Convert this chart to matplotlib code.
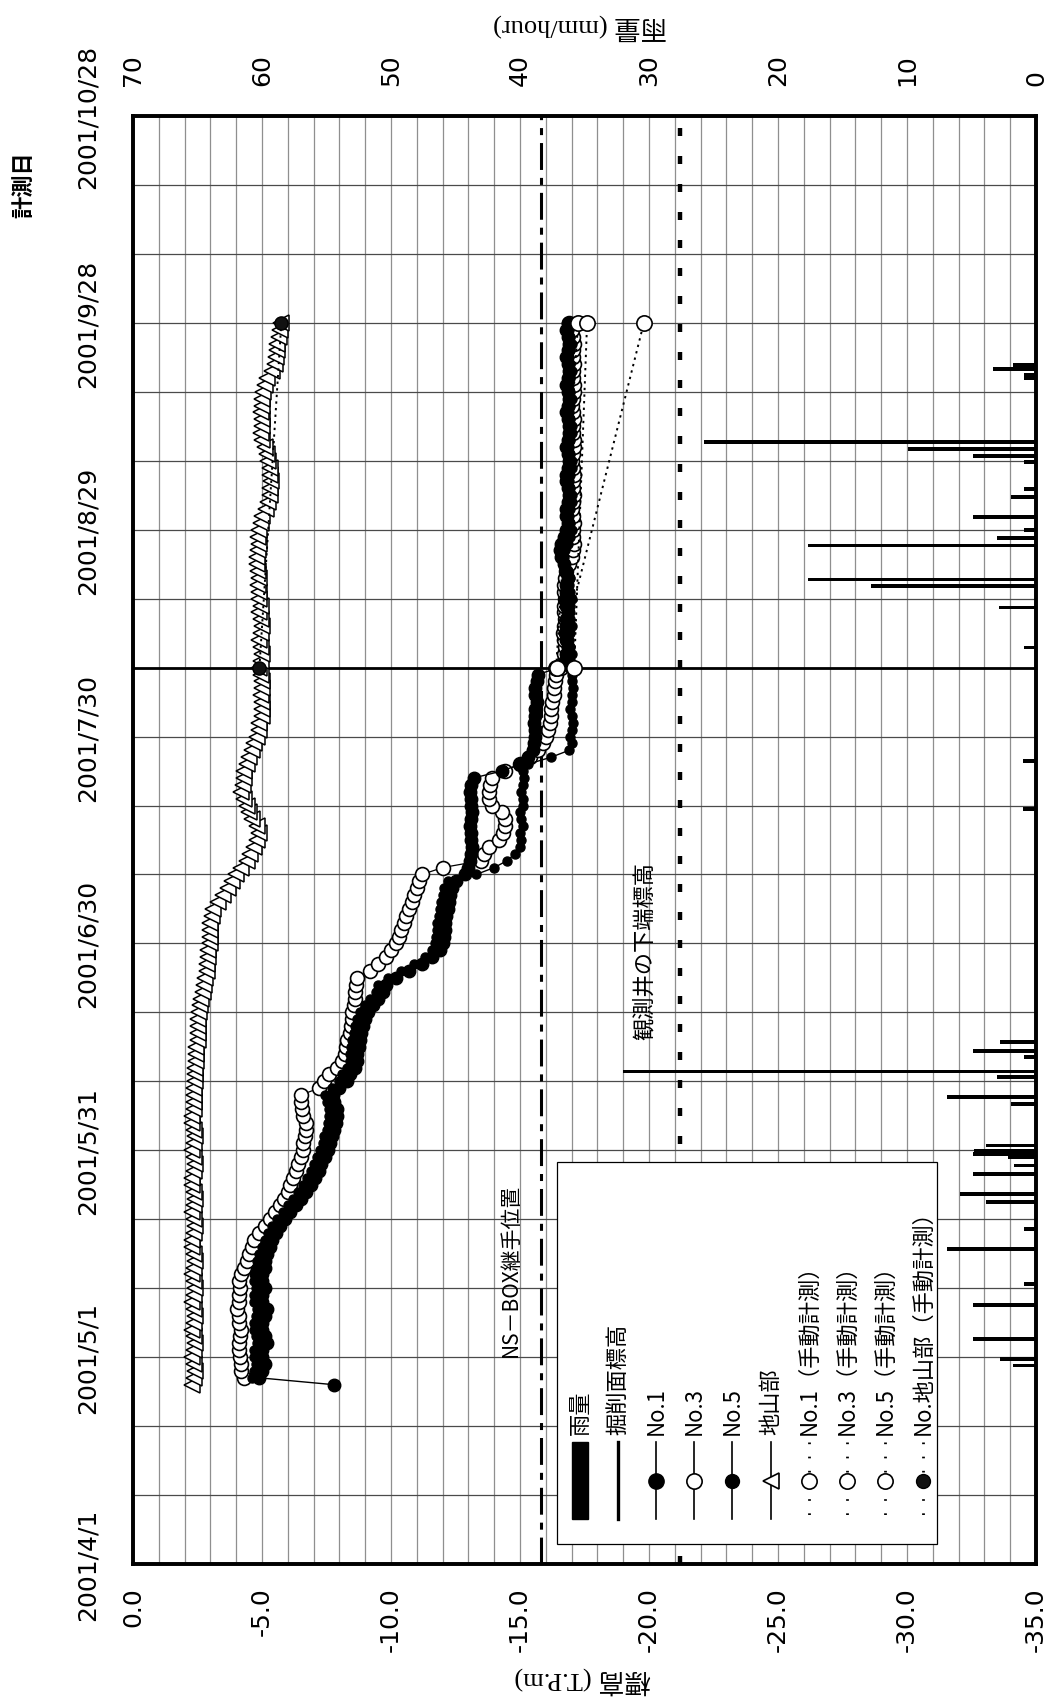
import matplotlib.pyplot as plt
from matplotlib.patches import Rectangle
import numpy as np
import pandas as pd

plt.rcParams['font.family'] = ['DejaVu Sans', 'Noto Sans CJK JP']

BASE = pd.Timestamp('2001-04-01')
W, H = 1049, 1708

# --- data --------------------------------------------------------------
# excavation surface elevation (掘削面標高)
exc_dates = ['2001-04-12', '2001-04-19', '2001-05-21', '2001-05-29', '2001-06-05',
             '2001-06-07', '2001-06-28', '2001-07-31', '2001-08-03', '2001-08-25',
             '2001-09-02', '2001-09-07', '2001-09-25', '2001-10-02', '2001-10-16',
             '2001-10-27']
exc_vals = [0.0, -2.8, -2.8, -5.6, -5.6, -6.4, -12.1, -17.3, -17.8, -17.8,
            -20.6, -20.6, -23.1, -23.1, -25.7, -25.7]

# automatic readings, one per day
no1_start = '2001-04-27'
no1_vals = ([-7.8]
            + [-4.9, -5.0, -5.1, -5.0, -5.0, -5.2, -5.1, -5.0, -5.0, -5.1, -5.2, -5.0,
               -5.0, -5.1, -5.0, -5.0, -5.1, -5.1]
            + [-5.2, -5.3, -5.4, -5.55, -5.7, -5.9, -6.1, -6.3, -6.5, -6.7,
               -6.9, -7.05, -7.2, -7.3, -7.45, -7.55, -7.65, -7.7, -7.8, -7.85,
               -7.9, -7.9, -7.8, -7.75, -8.0, -8.3, -8.4, -8.6, -8.7, -8.7,
               -8.75, -8.8, -8.85, -8.9, -9.0, -9.1, -9.3, -9.5, -9.7, -9.8,
               -10.2, -10.7, -11.2, -11.6, -11.9, -12.0, -12.05, -12.1, -12.1, -12.15,
               -12.2, -12.25, -12.3, -12.35, -12.5]
            + [-12.85, -13.0, -13.05, -13.1, -13.15, -13.1, -13.1, -13.05, -13.1, -13.15,
               -13.1, -13.1, -13.05, -13.1, -13.2, -14.3, -15.0, -15.3]
            + [-15.5, -15.55, -15.6, -15.6, -15.55, -15.6, -15.6, -15.65, -15.6, -15.6,
               -15.65, -15.7]
            + [-16.5, -16.75, -16.8, -16.85, -16.8, -16.75, -16.8, -16.8, -16.85, -16.8,
               -16.75, -16.8, -16.8, -16.85, -16.8, -16.7, -16.6, -16.55, -16.6, -16.7,
               -16.8, -16.85, -16.8, -16.8, -16.85, -16.9, -16.85, -16.8, -16.8, -16.85,
               -16.9, -16.85, -16.8, -16.85, -16.9, -16.9, -16.85, -16.8, -16.85, -16.9,
               -16.85, -16.8, -16.85, -16.9, -16.85, -16.8, -16.85, -16.9, -16.85, -16.8,
               -16.85])

no3_start = '2001-04-28'
no3_vals = ([-4.3, -4.2, -4.2, -4.15, -4.1, -4.1, -4.15, -4.2, -4.1, -4.1, -4.05, -4.1,
             -4.1, -4.15, -4.1, -4.2]
            + [-4.3, -4.4, -4.5, -4.6, -4.7, -4.9, -5.1, -5.3, -5.5, -5.7,
               -5.85, -6.0, -6.1, -6.2, -6.3, -6.4, -6.5, -6.6, -6.6, -6.65,
               -6.7, -6.7, -6.6, -6.55, -6.5, -6.5, -7.2, -7.4, -7.6, -7.9,
               -8.1, -8.2, -8.25, -8.3, -8.4, -8.45, -8.5, -8.5, -8.55, -8.6,
               -8.6, -8.65, -8.7, -9.2, -9.5, -9.8, -10.0, -10.2, -10.3, -10.4,
               -10.5, -10.6, -10.7, -10.8, -10.9, -11.0, -11.1, -11.2, -12.0, -13.5,
               -13.6, -13.8, -14.2, -14.35, -14.4, -14.4, -14.3, -13.9, -13.8, -13.8,
               -13.85, -13.9, -14.4, -15.0, -15.4, -15.7, -15.9, -16.0, -16.1, -16.15,
               -16.2, -16.2, -16.25, -16.3, -16.3, -16.35, -16.4]
            + [-16.6, -16.7, -16.7, -16.75, -16.7, -16.65, -16.7, -16.75, -16.7, -16.7,
               -16.75, -16.7, -16.7, -16.75, -16.8, -16.9, -17.0, -17.05, -17.1, -17.05,
               -17.05, -17.1, -17.05, -17.0, -17.05, -17.1, -17.05, -17.05, -17.1, -17.05,
               -17.0, -17.05, -17.1, -17.1, -17.05, -17.05, -17.1, -17.05, -17.0, -17.05,
               -17.1, -17.1, -17.05, -17.05, -17.1, -17.05, -17.05, -17.1, -17.05, -17.0,
               -16.9])

no5_start = '2001-04-28'
no5_vals = ([-4.6, -4.7, -4.75, -4.7, -4.7, -4.8, -4.75, -4.7, -4.7, -4.75, -4.8, -4.7,
             -4.7, -4.75, -4.7, -4.7, -4.75, -4.8]
            + [-4.9, -5.0, -5.1, -5.25, -5.4, -5.6, -5.8, -6.0, -6.2, -6.4,
               -6.6, -6.75, -6.9, -7.0, -7.15, -7.25, -7.35, -7.4, -7.5, -7.55,
               -7.6, -7.6, -7.5, -7.45, -7.7, -8.0, -8.1, -8.3, -8.4, -8.4,
               -8.45, -8.5, -8.55, -8.6, -8.7, -8.8, -9.0, -9.2, -9.4, -9.5,
               -9.9, -10.4, -10.9, -11.3, -11.6, -11.7, -11.75, -11.8, -11.8, -11.85,
               -11.9, -11.95, -12.0, -12.05, -12.2]
            + [-13.3, -14.0, -14.5, -14.8, -15.0, -15.05, -15.0, -15.1, -15.05, -15.0,
               -15.1, -15.1, -15.05, -15.1, -15.15, -15.1, -15.3, -16.2]
            + [-16.9, -17.0, -16.95, -17.0, -17.05, -17.0, -16.95, -17.0, -17.0, -17.05,
               -17.0, -17.0]
            + [-16.9, -16.95, -17.0, -16.95, -16.9, -16.95, -17.0, -16.95, -16.9, -16.95,
               -17.0, -16.95, -16.9, -16.95, -16.85, -16.75, -16.7, -16.75, -16.85, -16.95,
               -17.0, -16.95, -16.9, -16.95, -17.0, -17.0, -16.95, -16.9, -16.95, -17.0,
               -17.0, -16.95, -16.9, -16.95, -17.0, -17.0, -16.95, -16.9, -16.95, -17.0,
               -16.95, -16.9, -16.95, -17.0, -16.95, -16.9, -16.95, -17.0, -16.95, -16.9,
               -16.95])

jiyama_start = '2001-04-27'
jiyama_vals = ([-2.3, -2.35, -2.4, -2.35, -2.3, -2.35, -2.4, -2.35, -2.3, -2.35,
                -2.4, -2.35, -2.3, -2.35, -2.4, -2.35, -2.3, -2.35, -2.4, -2.35,
                -2.3, -2.3, -2.35, -2.4, -2.35, -2.3, -2.35, -2.4, -2.35, -2.3,
                -2.3, -2.35, -2.4, -2.35, -2.3, -2.35, -2.4, -2.35, -2.3, -2.3,
                -2.35, -2.35]
               + [-2.35, -2.35, -2.4, -2.4, -2.4, -2.45, -2.45, -2.45, -2.5, -2.5, -2.5, -2.5]
               + [-2.55, -2.6, -2.65, -2.7, -2.75, -2.8, -2.85, -2.85, -2.9, -2.9]
               + [-3.0, -3.0, -3.0, -3.0, -3.05, -3.1]
               + [-3.3, -3.5, -3.7, -3.85, -4.0, -4.2, -4.4, -4.55, -4.7, -4.8, -4.9]
               + [-4.8, -4.6, -4.5, -4.4, -4.3, -4.2, -4.25, -4.3, -4.3, -4.4, -4.5, -4.6,
                  -4.7, -4.8]
               + [-4.9, -4.9, -5.0, -5.0, -5.0, -4.95, -5.0, -5.0, -4.95, -4.9, -4.95, -5.0,
                  -4.95, -4.9, -4.95, -5.0, -4.95, -4.9, -4.95, -4.9, -4.9, -4.85, -4.9]
               + [-4.85, -4.8, -4.8, -4.85, -4.9, -4.85, -4.9, -4.95, -5.0]
               + [-5.15, -5.25, -5.3, -5.3, -5.35, -5.3, -5.3, -5.25, -5.2, -5.1]
               + [-5.0, -4.95, -5.0, -5.0, -4.95, -5.0, -5.0, -5.05, -5.1, -5.2]
               + [-5.4, -5.5, -5.55, -5.6, -5.6, -5.65, -5.7, -5.75])

# manual readings (手動計測)
man_dates = ['2001-08-09', '2001-09-28']
no1_man = [-16.4, -17.25]
no3_man = [-17.1, -17.6]
no5_man = [-16.45, -19.8]
jiyama_man = [-4.9, -5.75]

# hourly rainfall (mm/hour)
rain_times = ['2001-04-29 19:00', '2001-04-30 17:00', '2001-05-03 14:00', '2001-05-08 14:00',
              '2001-05-11 14:00', '2001-05-16 17:00', '2001-05-19 14:00', '2001-05-23 12:00',
              '2001-05-24 17:00', '2001-05-27 14:00', '2001-05-28 19:00', '2001-05-30 00:00',
              '2001-05-30 12:00', '2001-05-30 22:00', '2001-05-31 17:00', '2001-06-06 17:00',
              '2001-06-07 17:00', '2001-06-10 14:00', '2001-06-11 10:00', '2001-06-13 12:00',
              '2001-06-14 10:00', '2001-06-15 17:00', '2001-07-19 12:00', '2001-07-26 12:00',
              '2001-08-11 22:00', '2001-08-17 17:00', '2001-08-20 19:00', '2001-08-21 19:00',
              '2001-08-26 17:00', '2001-08-27 19:00', '2001-08-28 22:00', '2001-08-30 19:00',
              '2001-09-02 17:00', '2001-09-03 22:00', '2001-09-07 19:00', '2001-09-08 17:00',
              '2001-09-09 17:00', '2001-09-10 17:00', '2001-09-19 22:00', '2001-09-20 10:00',
              '2001-09-21 07:00', '2001-09-21 22:00']
rain_mm = [1.8, 2.8, 4.9, 4.9, 0.9, 6.9, 0.9, 3.9, 5.9, 4.9, 1.7, 2.2, 4.9, 4.8, 3.9,
           1.9, 6.9, 3.0, 32.0, 0.9, 4.9, 2.8, 1.0, 1.0, 0.9, 2.9, 12.8, 17.7, 17.7,
           3.0, 0.9, 4.9, 1.9, 0.9, 0.9, 4.9, 9.9, 25.7, 0.9, 0.9, 3.3, 1.8]

NS_BOX_ELEV = -15.8          # NS-BOX継手位置
WELL_BOTTOM_ELEV = -21.2     # 観測井の下端標高
EVENT_DATE = '2001-08-09'


def days(dates):
    return np.asarray((pd.to_datetime(dates) - BASE) / pd.Timedelta(days=1), dtype=float)


def daily(start, vals):
    return days(pd.date_range(start, periods=len(vals), freq='D'))


# --- figure ---------------------------------------------------------------
fig = plt.figure(figsize=(W / 100, H / 100), dpi=100)
L, R, T, B = 133, 1036, 117, 1565
ax = fig.add_axes([L / W, 1 - B / H, (R - L) / W, (B - T) / H])
ax.set_xlim(0, -35)
ax.set_ylim(0, 210)
ax.set_axisbelow(True)

# grid
ax.set_xticks(np.arange(0, -36, -1), minor=True)
ax.set_yticks(np.arange(0, 211, 10), minor=True)
ax.grid(axis='x', which='both', color='#8f8f8f', lw=0.9)
ax.grid(axis='y', which='both', color='#4a4a4a', lw=0.9)

xt = np.arange(0, -36, -5)
ax.set_xticks(xt)
ax.set_xticklabels([f"{v:.1f}" for v in xt], rotation=90, va='top', fontsize=18)
yt = np.arange(0, 211, 30)
ylab = [f"{t.year}/{t.month}/{t.day}" for t in BASE + pd.to_timedelta(yt, unit='D')]
ax.set_yticks(yt)
ax.set_yticklabels(ylab, rotation=90, va='center', fontsize=18)
ax.tick_params(axis='x', which='both', length=0, pad=16)
ax.tick_params(axis='y', which='both', length=0, pad=24)
for s in ax.spines.values():
    s.set_linewidth(2.6)

# reference lines
ax.axvline(NS_BOX_ELEV, color='black', lw=2.2, dashes=[8.8, 2.6, 2.3, 2.6], zorder=2)
ax.axvline(WELL_BOTTOM_ELEV, color='black', lw=3.2, dashes=[1.8, 4.5], zorder=2)
ax.axhline(days([EVENT_DATE])[0], color='black', lw=2.0, zorder=2)

# excavation line
ax.plot(days(exc_dates), exc_vals, color='black', lw=2.4, zorder=3)

# automatic series (elevation on x, date on y)
ax.plot(jiyama_vals, daily(jiyama_start, jiyama_vals), color='black', lw=0.9,
        marker='<', ms=11, mfc='white', mec='black', mew=1.1, zorder=4)
ax.plot(no3_vals, daily(no3_start, no3_vals), color='black', lw=0.9,
        marker='o', ms=10, mfc='white', mec='black', mew=1.2, zorder=5)
ax.plot(no1_vals, daily(no1_start, no1_vals), color='black', lw=1.0,
        marker='o', ms=9, mfc='black', mec='black', zorder=6)
ax.plot(no5_vals, daily(no5_start, no5_vals), color='black', lw=1.0,
        marker='o', ms=6.5, mfc='black', mec='black', zorder=7)

# manual series
md = days(man_dates)
for vals in (no1_man, no3_man, no5_man):
    ax.plot(vals, md, color='black', lw=1.4, dashes=[1.2, 2.2],
            marker='o', ms=11, mfc='white', mec='black', mew=1.2, zorder=8)
ax.plot(jiyama_man, md, color='black', lw=1.4, dashes=[1.2, 2.2],
        marker='o', ms=9.5, mfc='#111111', mec='black', zorder=8)

# annotations
cjk = ['Noto Sans CJK JP', 'DejaVu Sans']
ax.text(-14.65, 42.8, 'NS－BOX継手位置', rotation=90, ha='center', va='center',
        fontsize=15, fontfamily=cjk, zorder=9)
ax.text(-19.8, 89.0, '観測井の下端標高', rotation=90, ha='center', va='center',
        fontsize=16, fontfamily=cjk, zorder=9)

# rainfall on the top axis
ax2 = ax.twiny()
ax2.set_xlim(70, 0)
ax2.barh(days(rain_times), rain_mm, height=0.55, color='black', zorder=3)
ax2.set_xticks(np.arange(0, 71, 10))
ax2.set_xticklabels([str(v) for v in range(0, 71, 10)], rotation=90, va='bottom', fontsize=18)
ax2.tick_params(axis='x', length=0, pad=22)
for s in ax2.spines.values():
    s.set_linewidth(2.6)

# axis titles (the whole chart is turned on its side)
fig.text(24 / W, 1 - 185 / H, '計測日', rotation=90, ha='center', va='center',
         fontsize=16, fontweight='bold', fontfamily=cjk)
fig.text(583 / W, 1 - 1681 / H, '標高 (T.P.m)', rotation=180, ha='center', va='center',
         fontsize=19, fontfamily=['Liberation Serif', 'Noto Sans CJK JP'])
fig.text(580 / W, 1 - 27 / H, '雨量 (mm/hour)', rotation=180, ha='center', va='center',
         fontsize=19, fontfamily=['Liberation Serif', 'Noto Sans CJK JP'])

# legend, drawn rotated like the rest of the chart
ov = fig.add_axes([0, 0, 1, 1], zorder=10)
ov.set_xlim(0, W)
ov.set_ylim(H, 0)
ov.axis('off')
LX, LY, LW, LH = 557, 1163, 380, 382
ov.add_patch(Rectangle((LX, LY), LW, LH, fc='white', ec='black', lw=0.9))
labels = ['雨量', '掘削面標高', 'No.1', 'No.3', 'No.5', '地山部',
          'No.1（手動計測）', 'No.3（手動計測）', 'No.5（手動計測）', 'No.地山部（手動計測）']
cols = LX + 23 + 38.1 * np.arange(len(labels))
h0, h1, hm, txt_y = 1443, 1520, 1482, 1435
styles = [None,
          dict(lw=2.4),
          dict(lw=1.2, marker='o', ms=11, mfc='black'),
          dict(lw=1.2, marker='o', ms=11, mfc='white', mew=1.2),
          dict(lw=1.2, marker='o', ms=10, mfc='black'),
          dict(lw=1.2, marker='<', ms=12, mfc='white', mew=1.2),
          dict(lw=2.0, dashes=[0.6, 4.5], marker='o', ms=11, mfc='white', mew=1.2),
          dict(lw=2.0, dashes=[0.6, 4.5], marker='o', ms=11, mfc='white', mew=1.2),
          dict(lw=2.0, dashes=[0.6, 4.5], marker='o', ms=11, mfc='white', mew=1.2),
          dict(lw=2.0, dashes=[0.6, 4.5], marker='o', ms=10, mfc='#111111')]
for cx, lab, st in zip(cols, labels, styles):
    if st is None:
        ov.add_patch(Rectangle((cx - 8, h0), 16, h1 - h0, fc='black', ec='black'))
    else:
        st = dict(st)
        mk = {k: st.pop(k) for k in ('marker', 'ms', 'mfc', 'mew') if k in st}
        ov.plot([cx, cx], [h0, h1], color='black', **st)
        if mk:
            ov.plot([cx], [hm], linestyle='none', mec='black', **mk)
    ov.text(cx, txt_y, lab, rotation=90, ha='center', va='bottom', fontsize=16,
            fontfamily=cjk)

fig.savefig('out.png', dpi=100)
